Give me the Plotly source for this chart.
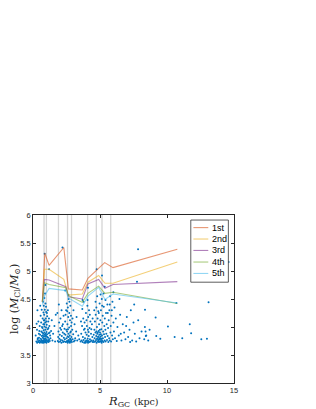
import plotly.graph_objects as go

# ---- data -----------------------------------------------------------
bin_edges = [0.825, 1.0, 1.9, 2.575, 2.875, 4.075, 4.725, 5.15, 5.8]

cluster_inner = [(0.25,3.74),(0.31,3.72),(0.35,3.78),(0.38,3.75),(0.42,3.73),(0.45,3.81),(0.48,3.76),(0.51,3.72),(0.53,3.86),(0.55,3.74),
(0.58,3.79),(0.6,3.73),(0.62,3.92),(0.64,3.77),(0.66,3.84),(0.68,3.72),(0.7,3.75),(0.71,3.98),(0.73,3.81),(0.74,3.73),
(0.76,3.88),(0.77,4.05),(0.78,3.76),(0.79,3.94),(0.8,3.72),(0.81,4.12),(0.82,3.83),(0.83,4.22),(0.84,3.74),(0.85,3.9),
(0.86,4.01),(0.87,3.78),(0.88,4.31),(0.89,3.86),(0.9,3.73),(0.91,4.08),(0.92,3.95),(0.93,4.42),(0.94,3.8),(0.95,4.15),
(0.96,3.75),(0.97,3.99),(0.98,4.27),(0.99,3.84),(1.0,3.72),(1.01,3.91),(1.02,4.04),(1.03,3.77),(1.05,3.87),(1.06,4.19),
(1.08,3.74),(1.1,3.96),(1.12,3.81),(1.14,4.1),(1.16,3.73),(1.18,3.89),(1.2,3.78),(1.22,4.02),(1.25,3.75),(1.28,3.85),
(0.3,3.95),(0.4,4.1),(0.5,4.02),(0.57,4.2),(0.65,4.31),(0.72,4.15),(0.75,4.45),(0.8,4.38),(0.85,4.52),(0.9,4.6),
(0.33,4.3),(0.44,3.88),(0.61,4.08),(0.69,3.9),(0.78,4.26),(0.87,4.12),(0.92,3.84),(0.97,4.36),(1.04,4.25),(1.11,4.3),
(1.15,3.98),(1.3,3.8),(1.35,3.93),(1.4,4.12),(1.45,3.76),(1.5,3.88),(1.6,4.02),(1.65,3.74),(1.7,4.22),(0.2,3.85),
(0.27,4.06),(0.36,3.8),(0.47,3.93),(0.54,4.38),(0.63,3.76),(0.67,4.0),(0.74,3.85),(0.81,3.79),(0.84,4.05),(0.89,3.77),
(0.94,3.88),(0.98,3.76),(1.0,4.1),(1.07,3.82),(1.13,3.76),(1.19,4.15),(1.24,3.9),(0.76,3.73),(0.86,3.74),(0.93,3.73)]

cluster_second = [(1.85,3.75),(1.88,3.82),(1.9,3.92),(1.92,3.73),(1.95,4.08),(1.97,3.79),(2.0,3.86),(2.02,3.74),(2.05,4.15),(2.08,3.77),
(2.1,3.95),(2.12,3.72),(2.15,3.84),(2.18,4.02),(2.2,3.76),(2.22,3.9),(2.25,3.73),(2.28,4.2),(2.3,3.81),(2.32,3.74),
(2.35,3.97),(2.38,3.78),(2.4,4.1),(2.42,3.86),(2.45,3.73),(2.47,4.3),(2.5,3.8),(2.52,4.42),(2.54,3.92),(2.55,3.75),
(2.57,4.05),(2.58,3.83),(2.6,4.35),(2.62,3.74),(2.63,4.18),(2.65,3.88),(2.66,4.5),(2.68,3.77),(2.7,3.99),(2.71,4.25),
(2.73,3.73),(2.74,3.85),(2.76,4.12),(2.77,3.79),(2.79,4.38),(2.8,3.74),(2.82,3.92),(2.84,4.02),(2.85,3.76),(2.87,3.82),
(2.9,3.73),(2.93,3.95),(2.96,3.78),(3.0,3.87),(3.05,3.74),(3.1,4.05),(3.15,3.8),(3.22,3.92),(3.3,3.76),(3.38,3.85),
(1.82,4.25),(1.93,4.4),(2.03,3.98),(2.13,4.3),(2.23,4.05),(2.33,3.88),(2.43,4.22),(2.48,3.95),(2.56,4.28),(2.61,3.96),
(2.67,3.82),(2.72,4.45),(2.78,3.9),(2.83,4.2),(2.88,4.08),(2.95,4.15),(3.02,4.3),(3.12,3.76),(3.25,4.18),(3.45,3.78),
(2.51,3.74),(2.59,3.72),(2.64,3.76),(2.69,3.74),(2.75,3.72),(2.81,3.78)]

cluster_third = [(3.55,3.74),(3.6,3.88),(3.63,3.76),(3.66,4.02),(3.7,3.73),(3.72,3.82),(3.75,4.15),(3.78,3.77),(3.8,3.95),(3.82,3.72),
(3.85,4.08),(3.88,3.8),(3.9,3.74),(3.92,3.9),(3.95,4.25),(3.97,3.76),(4.0,3.86),(4.02,4.02),(4.04,3.73),(4.06,4.38),
(4.08,3.79),(4.1,3.95),(4.12,4.18),(4.14,3.75),(4.16,3.84),(4.18,4.3),(4.2,3.73),(4.22,3.98),(4.25,3.78),(4.28,4.1),
(4.3,3.74),(4.33,3.88),(4.36,3.76),(4.4,4.05),(4.43,3.82),(4.46,3.73),(3.68,4.32),(3.77,4.45),(3.86,3.97),(3.99,4.12),
(4.07,4.48),(4.15,3.91),(4.24,4.22),(4.35,3.96),(4.45,4.15),(3.58,4.1),(3.93,3.72),(4.05,3.75),(4.11,3.72)]

cluster_fourth = [(4.5,3.76),(4.53,3.86),(4.55,3.73),(4.58,3.95),(4.6,3.8),(4.62,4.1),(4.64,3.74),(4.66,3.9),(4.68,4.22),(4.7,3.77),
(4.72,3.84),(4.73,4.35),(4.75,3.72),(4.77,4.0),(4.78,3.79),(4.8,3.88),(4.82,4.15),(4.83,3.74),(4.85,3.82),(4.87,4.28),
(4.88,3.76),(4.9,3.93),(4.92,3.73),(4.93,4.05),(4.95,3.86),(4.97,4.42),(4.98,3.78),(5.0,3.9),(5.02,3.74),(5.03,4.12),
(5.05,3.83),(5.07,4.3),(5.08,3.77),(5.1,3.96),(5.12,3.72),(5.13,4.5),(5.15,3.85),(5.17,4.08),(5.18,3.75),(5.2,4.2),
(5.22,3.8),(5.24,3.92),(5.26,3.73),(5.28,4.36),(5.3,3.87),(5.32,4.02),(5.34,3.76),(5.36,4.15),(5.38,3.82),(5.4,3.95),
(5.42,3.74),(5.45,4.25),(5.47,3.88),(5.5,4.05),(5.52,3.77),(5.55,4.4),(5.57,3.84),(5.6,3.98),(5.62,3.73),(5.65,4.12),
(5.68,3.8),(5.7,4.3),(5.72,3.76),(5.75,4.55),(5.78,3.9),(5.8,4.02),(5.83,3.74),(5.86,4.2),(5.9,3.85),(5.93,4.45),
(5.96,3.78),(6.0,4.08),(6.04,3.92),(6.08,4.35),(6.12,3.8),(6.18,4.15),(6.25,3.75),(6.3,4.0),(4.57,4.3),(4.67,4.45),
(4.79,4.55),(4.91,4.25),(5.04,4.58),(5.16,4.38),(5.27,4.6),(5.41,4.48),(5.58,4.25),(5.73,4.4),(5.88,4.3),(4.84,3.9),
(4.96,3.8),(5.06,3.87),(4.74,3.92),(4.86,3.78),(4.94,3.74),(5.01,3.8),(5.09,3.74),(5.14,3.79),(4.89,3.83),(4.99,3.95)]

cluster_outer = [(6.4,3.85),(6.5,4.22),(6.6,3.76),(6.7,4.05),(6.8,3.9),(6.9,3.78),(7.0,4.18),(7.1,3.82),(7.2,3.95),(7.3,4.3),
(7.4,3.76),(7.5,4.08),(7.6,3.88),(7.7,3.74),(7.85,4.12),(7.95,3.8),(8.1,3.92),(8.3,3.78),(8.36,4.31),(8.45,3.85),
(8.6,3.76),(8.7,3.95),(9.15,4.17),(9.2,3.84),(9.5,3.79),(10.07,4.01),(10.57,3.82),(11.14,3.8),(11.7,4.05),(11.8,3.89),
(12.56,3.78),(12.98,3.79),(6.45,4.5),(6.55,3.88),(6.95,4.02),(7.25,3.73),(7.55,4.4),(8.35,4.0),(8.4,3.92),(8.42,3.84)]

cluster_massive = [(0.87,5.31),(2.2,5.42),(4.75,5.03),(5.15,4.92),(7.84,5.39),(7.76,4.81),(13.1,4.44),(14.6,5.16),
(10.7,4.43),(1.2,5.03),(0.93,4.75),(2.65,4.57),(3.7,4.48),(5.35,4.72),(6.0,4.62),(4.1,4.7),(2.4,4.65)]

rank_names = ["1st", "2nd", "3rd", "4th", "5th"]
rank_x = [
    [0.70, 0.88, 1.20, 2.30, 2.64, 3.68, 4.10, 5.35, 5.97, 10.77],
    [0.70, 0.85, 1.20, 2.30, 2.64, 3.68, 4.10, 4.90, 5.37, 5.97, 10.77],
    [0.70, 0.85, 1.20, 2.45, 2.64, 3.68, 4.10, 4.90, 5.37, 5.97, 10.77],
    [0.70, 0.85, 1.20, 2.45, 2.64, 3.68, 4.10, 4.90, 5.37, 5.97, 10.77],
    [0.70, 0.85, 1.20, 2.45, 2.64, 3.68, 4.10, 4.90, 5.37, 5.97, 10.77],
]
rank_y = [
    [4.45, 5.32, 5.10, 5.42, 4.68, 4.66, 4.87, 5.15, 5.06, 5.39],
    [4.45, 5.03, 5.03, 4.85, 4.57, 4.59, 4.80, 4.92, 4.78, 4.78, 5.16],
    [4.45, 4.85, 4.84, 4.72, 4.54, 4.50, 4.77, 4.85, 4.69, 4.76, 4.81],
    [4.45, 4.79, 4.76, 4.70, 4.56, 4.44, 4.60, 4.73, 4.60, 4.62, 4.42],
    [4.40, 4.55, 4.69, 4.65, 4.52, 4.37, 4.55, 4.71, 4.49, 4.59, 4.43],
]
rank_colors = ["#D95319", "#EDB120", "#7E2F8E", "#77AC30", "#4DBEEE"]

x_ticks = [0, 5, 10, 15]
y_ticks = [3, 3.5, 4, 4.5, 5, 5.5, 6]

# ---- figure -----------------------------------------------------------
all_pts = cluster_inner + cluster_second + cluster_third + cluster_fourth + cluster_outer + cluster_massive
px = [p[0] for p in all_pts]
py = [p[1] for p in all_pts]

fig = go.Figure()
fig.add_trace(go.Scatter(x=px, y=py, mode="markers",
                         marker=dict(size=2.0, color="#0072BD", line=dict(width=0)),
                         showlegend=False, hoverinfo="skip"))
for name, xs, ys, c in zip(rank_names, rank_x, rank_y, rank_colors):
    fig.add_trace(go.Scatter(x=xs, y=ys, mode="lines", name=name,
                             line=dict(color=c, width=1.1), opacity=0.6,
                             showlegend=False))

shapes = []
for e in bin_edges:
    shapes.append(dict(type="line", xref="x", yref="y domain", x0=e, x1=e, y0=0, y1=1,
                       line=dict(color="#d4d4d4", width=1.3), layer="below"))

# manual legend box
lx0, lx1, ly0, ly1 = 0.785, 0.972, 0.60, 0.97
shapes.append(dict(type="rect", xref="paper", yref="paper", x0=lx0, x1=lx1, y0=ly0, y1=ly1,
                   line=dict(color="#333333", width=0.8), fillcolor="white", layer="above"))
row_y = [0.925, 0.857, 0.789, 0.72, 0.652]
annotations = []
for name, c, yy in zip(rank_names, rank_colors, row_y):
    shapes.append(dict(type="line", xref="paper", yref="paper", x0=0.798, x1=0.872, y0=yy, y1=yy,
                       line=dict(color=c, width=1.1), opacity=0.6, layer="above"))
    annotations.append(dict(xref="paper", yref="paper", x=0.88, y=yy, text=name, showarrow=False,
                            xanchor="left", yanchor="middle",
                            font=dict(family="Liberation Sans, Arial", size=9, color="#000000")))

# axis titles as annotations (pixel-offset placement)
annotations.append(dict(xref="paper", yref="paper", x=0.5, y=0, yshift=-9, xanchor="center", yanchor="top",
                        text="<i>R</i><sub>GC</sub> <span style='font-size:9.5px'>(kpc)</span>",
                        showarrow=False,
                        font=dict(family="DejaVu Serif, Liberation Serif", size=11.5, color="#262626")))
annotations.append(dict(xref="paper", yref="paper", x=0, y=0.5, xshift=-18, xanchor="center", yanchor="middle",
                        textangle=-90,
                        text="log (<i>M</i><sub>Cl</sub>/<i>M</i><sub>⊙</sub>)",
                        showarrow=False,
                        font=dict(family="DejaVu Serif, Liberation Serif", size=11, color="#262626")))

axis_common = dict(showgrid=False, zeroline=False, showline=True, mirror="ticks",
                   linecolor="#262626", linewidth=0.8, ticks="inside", ticklen=3,
                   tickcolor="#262626", tickwidth=0.8, automargin=False,
                   tickfont=dict(family="Liberation Sans, Arial", size=7.5, color="#262626"))

# the page adds an 8px body margin, so the figure is offset by it
fig.update_layout(
    template="none",
    width=308, height=401,
    margin=dict(l=25, r=82, t=207, b=26),
    paper_bgcolor="white", plot_bgcolor="white",
    shapes=shapes, annotations=annotations,
    xaxis=dict(range=[0, 15], tickvals=x_ticks, ticktext=[str(v) for v in x_ticks], **axis_common),
    yaxis=dict(range=[3, 6], tickvals=y_ticks, ticktext=[f"{v:g}" for v in y_ticks], **axis_common),
)

fig.write_html("out.html")
